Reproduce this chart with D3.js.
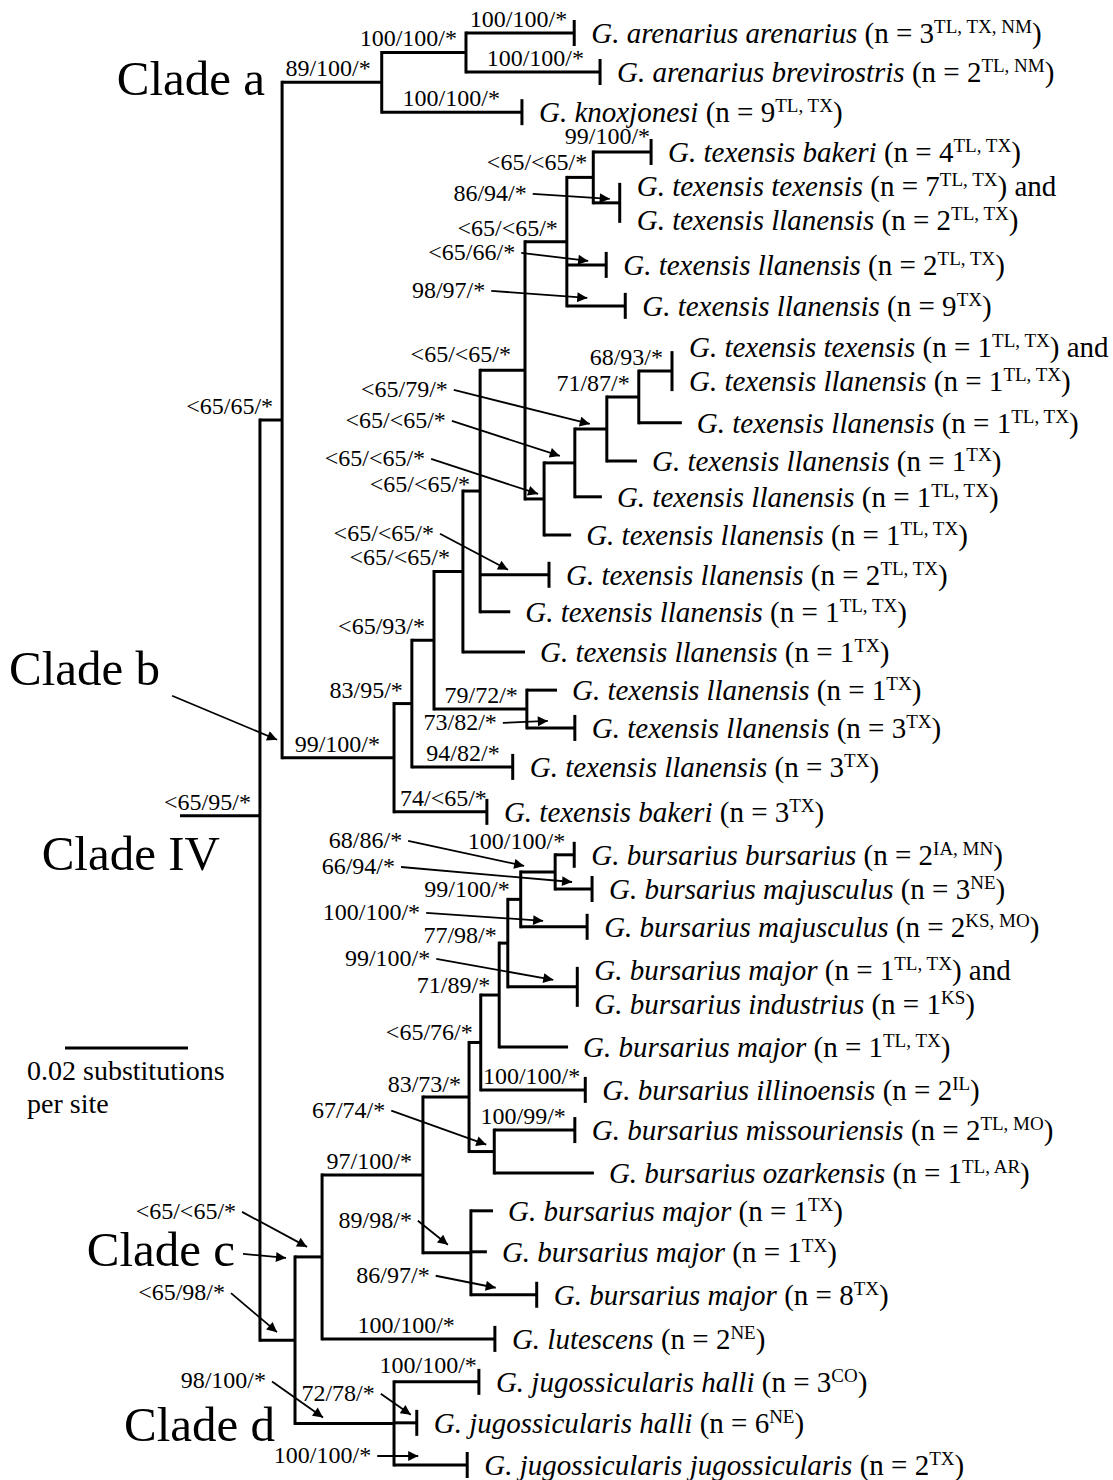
<!DOCTYPE html>
<html>
<head>
<meta charset="utf-8">
<script src="https://cdn.jsdelivr.net/npm/d3@7"></script>
<style>
  body { margin: 0; background: #fff; }
  svg { display: block; font-family: "Liberation Serif", "Times New Roman", serif; }
  text { white-space: pre; }
</style>
</head>
<body>
<svg id="tree" width="1113" height="1480"></svg>
<script>
// Tree topology. depth = distance from the base of the root stub (substitutions/site),
// support = ML bootstrap / MP bootstrap / Bayesian (* = posterior >= 0.95)
var nodeId = ["base","root","ab","A","A1","L1","L2","L3",
  "B","B1","B2","B3","B4","B5","B6","B7","L4","L5","L6","L7",
  "B8","B9","B10","B11","L8","L9","L10","L11","L12","L13","L14","L15",
  "B12","L16","L17","L18","L19",
  "cd","C","C1","C2","C3","C4","C5","C6","C7","L20","L21","L22","L23","L24","L25",
  "C8","L26","L27","C9","L28","L29","L30","L31","D","L32","L33","L34"];
var nodeParent = ["","base","root","ab","A","A1","A1","A",
  "ab","B","B1","B2","B3","B4","B5","B6","B7","B7","B6","B6",
  "B5","B8","B9","B10","B11","B11","B10","B9","B8","B4","B4","B3",
  "B2","B12","B12","B1","B",
  "root","cd","C","C1","C2","C3","C4","C5","C6","C7","C7","C6","C5","C4","C3",
  "C2","C8","C8","C1","C9","C9","C9","C","cd","D","D","D"];
var nodeDepth = [0, 0.0130, 0.0166, 0.0328, 0.0465, 0.0641, 0.0683, 0.0556,
  0.0348, 0.0377, 0.0413, 0.0460, 0.0488, 0.0561, 0.0629, 0.0672, 0.0766, 0.0715, 0.0693, 0.0724,
  0.0592, 0.0642, 0.0694, 0.0746, 0.0800, 0.0816, 0.0743, 0.0686, 0.0636, 0.0600, 0.0537, 0.0561,
  0.0564, 0.0613, 0.0642, 0.0541, 0.0499,
  0.0187, 0.0231, 0.0395, 0.0470, 0.0489, 0.0519, 0.0533, 0.0554, 0.0610, 0.0641, 0.0670, 0.0662, 0.0646, 0.0631, 0.0659,
  0.0511, 0.0642, 0.0673, 0.0473, 0.0509, 0.0499, 0.0580, 0.0512, 0.0348, 0.0486, 0.0385, 0.0467];
var nodeSupport = ["","<65/95/*","<65/65/*","89/100/*","100/100/*","100/100/*","100/100/*","100/100/*",
  "99/100/*","83/95/*","<65/93/*","<65/<65/*","<65/<65/*","<65/<65/*","<65/<65/*","<65/<65/*","99/100/*","86/94/*","<65/66/*","98/97/*",
  "<65/<65/*","<65/<65/*","<65/79/*","71/87/*","68/93/*","","","","","<65/<65/*","","",
  "79/72/*","","73/82/*","94/82/*","74/<65/*",
  "<65/98/*","<65/<65/*","97/100/*","83/73/*","<65/76/*","71/89/*","77/98/*","99/100/*","68/86/*","100/100/*","66/94/*","100/100/*","99/100/*","","100/100/*",
  "67/74/*","100/99/*","","89/98/*","","","86/97/*","100/100/*","98/100/*","100/100/*","72/78/*","100/100/*"];

// Terminal taxa, top to bottom
var leafId = ["L1","L2","L3","L4","L5","L6","L7","L8","L9","L10","L11","L12","L13","L14","L15","L16","L17",
  "L18","L19","L20","L21","L22","L23","L24","L25","L26","L27","L28","L29","L30","L31","L32","L33","L34"];
var leafRow = [0, 0.98, 1.99, 2.99, 4.27, 5.83, 6.86, 8.5, 9.8, 10.76, 11.66, 12.62, 13.62, 14.55, 15.56, 16.52, 17.47,
  18.45, 19.58, 20.66, 21.52, 22.47, 23.98, 25.49, 26.57, 27.58, 28.66, 29.61, 30.64, 31.72, 32.83, 33.91, 34.94, 36];
var leafTaxa = [["G. arenarius arenarius"],["G. arenarius brevirostris"],["G. knoxjonesi"],["G. texensis bakeri"],
  ["G. texensis texensis","G. texensis llanensis"],["G. texensis llanensis"],["G. texensis llanensis"],
  ["G. texensis texensis","G. texensis llanensis"],["G. texensis llanensis"],["G. texensis llanensis"],
  ["G. texensis llanensis"],["G. texensis llanensis"],["G. texensis llanensis"],["G. texensis llanensis"],
  ["G. texensis llanensis"],["G. texensis llanensis"],["G. texensis llanensis"],["G. texensis llanensis"],
  ["G. texensis bakeri"],["G. bursarius bursarius"],["G. bursarius majusculus"],["G. bursarius majusculus"],
  ["G. bursarius major","G. bursarius industrius"],["G. bursarius major"],["G. bursarius illinoensis"],
  ["G. bursarius missouriensis"],["G. bursarius ozarkensis"],["G. bursarius major"],["G. bursarius major"],
  ["G. bursarius major"],["G. lutescens"],["G. jugossicularis halli"],["G. jugossicularis halli"],
  ["G. jugossicularis jugossicularis"]];
var leafCount = [[3],[2],[9],[4],[7,2],[2],[9],[1,1],[1],[1],[1],[1],[2],[1],[1],[1],[3],[3],[3],[2],[3],[2],
  [1,1],[1],[2],[2],[1],[1],[1],[8],[2],[3],[6],[2]];
var leafSites = [["TL, TX, NM"],["TL, NM"],["TL, TX"],["TL, TX"],["TL, TX","TL, TX"],["TL, TX"],["TX"],
  ["TL, TX","TL, TX"],["TL, TX"],["TX"],["TL, TX"],["TL, TX"],["TL, TX"],["TL, TX"],["TX"],["TX"],["TX"],
  ["TX"],["TX"],["IA, MN"],["NE"],["KS, MO"],["TL, TX","KS"],["TL, TX"],["IL"],["TL, MO"],["TL, AR"],
  ["TX"],["TX"],["TX"],["NE"],["CO"],["NE"],["TX"]];

var rootRow = 19.68;          // row where the root stub is drawn
var scaleBarValue = 0.02;     // substitutions per site

// --- label placement (layout only) ---
// support labels written above their branch: [dx from node, dy]
var supportNudge = {A: [-11, 0], L1: [-7, 0], L2: [-16, 0], L3: [-22, 0], B: [-14, 0], B3: [-13, 0], B4: [-10, 7],
  B5: [-14, -2], B7: [-6, -1], L4: [-1, -2], L18: [-13, 0], L19: [0, 0], C6: [-11, 4], C5: [-11, 6], C4: [-9, 4],
  C3: [-8, 4], C2: [-8, 1], C1: [-11, 0], L25: [-5, 0], L31: [-40, 0], L32: [-2, -3]};
// support labels joined to their branch by an arrow: [tip dx, tip dy, label dx, label dy]
var supportArrow = {L5: [-10, -4, -83, -6], L6: [-18, -4, -73, -9], L7: [-38, -8, -102, -8],
  B10: [-17, -5, -142, -35], B9: [-15, -7, -114, -36], B8: [-6, -5, -113, -36], L13: [-41, -5, -74, -37],
  L17: [-27, -7, -51, 1], C7: [-31, -6, -122, -26], L21: [-20, -7, -177, -16], L22: [-44, -6, -123, -9],
  L23: [-24, -7, -123, -22], C8: [-8, -7, -101, -35], C9: [-23, -8, -36, -25], L30: [-41, -7, -66, -13],
  C: [-15, -10, -71, -36], cd: [-18, -8, -52, -40], D: [-71, -6, -57, -37], L33: [-6, -8, -36, -22],
  L34: [-49, -9, -47, -1]};
var leafTextNudge = {L8: -7};

var svg = d3.select("#tree");

var x = d3.scaleLinear().domain([0, 0.02]).range([180, 303]);
var y = d3.scaleLinear().domain([0, 36]).range([33, 1465]);

var table = nodeId.map(function(id, i) {
  return {id: id, parent: nodeParent[i] || null, depth: nodeDepth[i], support: nodeSupport[i]};
});
var root = d3.stratify()
  .id(function(d) { return d.id; })
  .parentId(function(d) { return d.parent; })(table);

// positions: leaves from their row, internal nodes centred on their outer children
root.eachAfter(function(n) {
  n.px = x(n.data.depth);
  if (!n.children) {
    n.k = leafId.indexOf(n.id);
    n.py = y(leafRow[n.k]);
  } else {
    var e = d3.extent(n.children, function(c) { return c.py; });
    n.top = e[0]; n.bottom = e[1];
    n.py = n.id == "root" ? y(rootRow) : (e[0] + e[1]) / 2;
  }
});
var byId = {};
root.each(function(n) { byId[n.id] = n; });

svg.append("defs").append("marker")
  .attr("id", "head")
  .attr("viewBox", "0 0 10 10")
  .attr("refX", 10).attr("refY", 5)
  .attr("markerUnits", "userSpaceOnUse")
  .attr("markerWidth", 13).attr("markerHeight", 10)
  .attr("orient", "auto")
  .append("path").attr("d", "M0,0L10,5L0,10z").attr("fill", "#000");

var g = svg.append("g");

// horizontal branches
g.selectAll("path.branch")
  .data(root.descendants().filter(function(n) { return n.parent; }))
  .join("path")
  .attr("class", "branch")
  .attr("d", function(n) { return "M" + n.parent.px + "," + n.py + "H" + n.px; })
  .attr("stroke", "#000").attr("stroke-width", 3).attr("fill", "none");

// vertical connectors
g.selectAll("path.join")
  .data(root.descendants().filter(function(n) { return n.children && n.children.length > 1; }))
  .join("path")
  .attr("class", "join")
  .attr("d", function(n) { return "M" + n.px + "," + n.top + "V" + n.bottom; })
  .attr("stroke", "#000").attr("stroke-width", 3).attr("stroke-linecap", "square").attr("fill", "none");

var leaves = root.leaves();

// terminal bars for pooled haplotypes (n > 1)
g.selectAll("path.tip")
  .data(leaves.filter(function(n) { return d3.sum(leafCount[n.k]) > 1; }))
  .join("path")
  .attr("class", "tip")
  .attr("d", function(n) {
    var h = leafTaxa[n.k].length > 1 ? 20 : 13;
    return "M" + n.px + "," + (n.py - h) + "V" + (n.py + h);
  })
  .attr("stroke", "#000").attr("stroke-width", 3);

// taxon labels
leaves.forEach(function(n) {
  var names = leafTaxa[n.k], counts = leafCount[n.k], sites = leafSites[n.k];
  var two = names.length > 1;
  var tx = n.px + (d3.sum(counts) > 1 ? 17 : 15);
  var base = n.py + 10 + (leafTextNudge[n.id] || 0);
  names.forEach(function(name, j) {
    var t = g.append("text")
      .attr("x", tx)
      .attr("y", base + (two ? (j ? 17 : -17) : 0))
      .attr("font-size", 29);
    t.append("tspan").attr("font-style", "italic").text(name);
    t.append("tspan").text(" (n = " + counts[j]);
    t.append("tspan").attr("font-size", 19).attr("dy", -10).text(sites[j]);
    t.append("tspan").attr("dy", 10).text(")" + (two && j == 0 ? " and" : ""));
  });
});

// support values
root.descendants().forEach(function(n) {
  var s = n.data.support;
  if (!s) return;
  var a = supportArrow[n.id];
  if (a) {
    var tipX = n.px + a[0], tipY = n.py + a[1];
    var lx = tipX + a[2], ly = tipY + a[3];
    g.append("text").attr("x", lx).attr("y", ly + 8)
      .attr("text-anchor", "end").attr("font-size", 24).text(s);
    g.append("line")
      .attr("x1", lx + 6).attr("y1", ly + 1).attr("x2", tipX).attr("y2", tipY)
      .attr("stroke", "#000").attr("stroke-width", 1.8).attr("marker-end", "url(#head)");
  } else {
    var o = supportNudge[n.id] || [-9, 0];
    g.append("text").attr("x", n.px + o[0]).attr("y", n.py - 6 + o[1])
      .attr("text-anchor", "end").attr("font-size", 24).text(s);
  }
});

// clade names
function cladeText(label, xEnd, yBase) {
  g.append("text").attr("x", xEnd).attr("y", yBase)
    .attr("text-anchor", "end").attr("font-size", 49).text(label);
}
function arrow(x1, y1, x2, y2) {
  g.append("line").attr("x1", x1).attr("y1", y1).attr("x2", x2).attr("y2", y2)
    .attr("stroke", "#000").attr("stroke-width", 1.8).attr("marker-end", "url(#head)");
}
var nA = byId.A, nB = byId.B, nC = byId.C, nD = byId.D, nR = byId.root;
cladeText("Clade a", nA.parent.px - 17, nA.py + 13);
cladeText("Clade b", nB.parent.px - 122, nB.py - 73);
arrow(nB.parent.px - 110, nB.py - 62, nB.parent.px - 5, nB.py - 18);
cladeText("Clade IV", nR.px - 40, nR.py + 54);
cladeText("Clade c", nC.parent.px - 60, nC.py + 9);
arrow(nC.parent.px - 52, nC.py - 3, nC.parent.px - 9, nC.py + 1);
cladeText("Clade d", nD.parent.px - 20, nD.py + 18);

// scale bar
var sb = g.append("g").attr("transform", "translate(" + (65 - x(0)) + ",0)");
sb.append("path")
  .attr("d", "M" + x(0) + ",1048H" + x(scaleBarValue))
  .attr("stroke", "#000").attr("stroke-width", 3);
g.append("text").attr("x", 27).attr("y", 1080).attr("font-size", 28).text(scaleBarValue + " substitutions");
g.append("text").attr("x", 27).attr("y", 1113).attr("font-size", 28).text("per site");
</script>
</body>
</html>
